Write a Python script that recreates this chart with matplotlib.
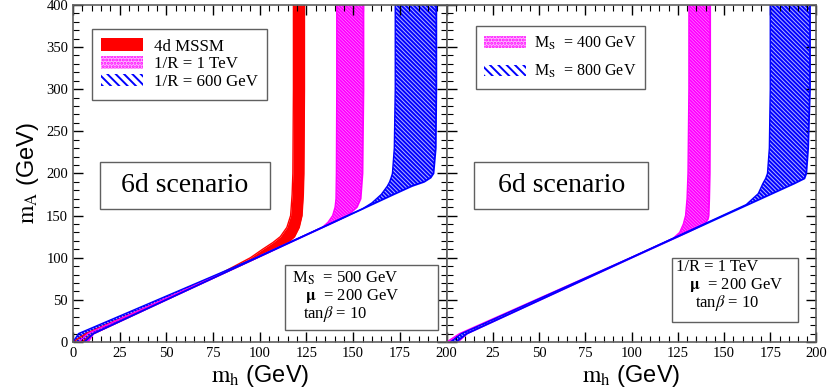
import matplotlib
matplotlib.use("Agg")
import matplotlib.pyplot as plt
from matplotlib.patches import Patch, Rectangle
from matplotlib.ticker import MultipleLocator

plt.rcParams['font.family'] = ['Liberation Serif', 'DejaVu Serif']
plt.rcParams['mathtext.fontset'] = 'stix'
plt.rcParams['hatch.linewidth'] = 1.4

# ---- data: (mA, mh lower edge, mh upper edge) ----
# left panel, 6d scenario, M_S = 500 GeV
mA_red = [0, 10, 50, 80, 100, 110, 118, 125, 136, 150, 175, 200, 300, 400]
mh_red_lo = [0, 7, 48.8, 78, 95, 101.5, 107, 111, 114.5, 116.5, 117.3, 117.7, 118, 118]
mh_red_hi = [5, 11, 49.7, 79, 98.5, 108, 115, 118.5, 121, 122.5, 123.2, 123.5, 123.8, 123.8]

mA_mag1 = [0, 10, 100, 136, 142, 150, 160, 170, 200, 300, 400]
mh_mag1_lo = [3, 8, 98, 133.5, 136.5, 139, 140.3, 140.8, 141, 141.2, 141.2]
mh_mag1_hi = [8, 11, 98.5, 133.6, 139.5, 147, 152, 154, 155, 155.5, 155.5]

mA_blu1 = [0, 10, 100, 158, 165, 175, 185, 190, 195, 200, 230, 300, 400]
mh_blu1_lo = [0, 3, 98, 155, 160, 165, 168.3, 169.5, 170.3, 171, 172, 172.5, 172.5]
mh_blu1_hi = [6, 11, 98.5, 155.1, 161.9, 171.6, 181.5, 188, 191.5, 193, 194.2, 194.5, 194.5]

# right panel, 1/R = 1 TeV
mA_mag2 = [0, 10, 100, 123, 130, 140, 146, 150, 170, 200, 300, 400]
mh_mag2_lo = [0, 7, 99.5, 122.5, 126, 128, 128.7, 129.2, 130, 130.5, 131, 131]
mh_mag2_hi = [6, 11, 100, 123, 130, 139.5, 141.3, 141.7, 142, 142.3, 142.5, 142.5]

mA_blu2 = [0, 10, 100, 163, 170, 176, 188, 194, 200, 230, 300, 400]
mh_blu2_lo = [2, 8, 99.5, 162, 165.5, 168.5, 171, 172.5, 173.5, 174.5, 175, 175]
mh_blu2_hi = [5, 11, 100, 163, 170, 176, 188, 193.5, 194.5, 195.5, 196.5, 196.5]

red_style = dict(facecolor='#ff0000', edgecolor='#ff0000', hatch=None)
mag_style = dict(facecolor='#ffc0ff', edgecolor='#ff00ff', hatch='\\\\\\\\\\\\\\\\\\\\')
blu_style = dict(facecolor='#b4b4ff', edgecolor='#0000ff', hatch='\\\\\\\\\\\\\\\\')


def band(ax, mA, lo, hi, st):
    ax.fill_betweenx(mA, lo, hi, facecolor=st['facecolor'], edgecolor=st['edgecolor'],
                     hatch=st['hatch'], linewidth=0)
    ax.plot(lo, mA, color=st['edgecolor'], lw=1.0)
    ax.plot(hi, mA, color=st['edgecolor'], lw=1.3)


fig = plt.figure(figsize=(8.34, 3.92), dpi=100)
ax1 = fig.add_axes([0.0875, 0.1276, 0.448, 0.860])
ax2 = fig.add_axes([0.5356, 0.1276, 0.4434, 0.860])

band(ax1, mA_red, mh_red_lo, mh_red_hi, red_style)
band(ax1, mA_mag1, mh_mag1_lo, mh_mag1_hi, mag_style)
band(ax1, mA_blu1, mh_blu1_lo, mh_blu1_hi, blu_style)
band(ax2, mA_mag2, mh_mag2_lo, mh_mag2_hi, mag_style)
band(ax2, mA_blu2, mh_blu2_lo, mh_blu2_hi, blu_style)

for ax in (ax1, ax2):
    ax.set_xlim(0, 200)
    ax.set_ylim(0, 400)
    ax.xaxis.set_major_locator(MultipleLocator(25))
    ax.xaxis.set_minor_locator(MultipleLocator(5))
    ax.yaxis.set_major_locator(MultipleLocator(50))
    ax.yaxis.set_minor_locator(MultipleLocator(10))
    ax.tick_params(which='both', direction='in', top=True, right=True, labelsize=10.5)
    ax.tick_params(which='major', length=7, width=1)
    ax.tick_params(which='minor', length=4, width=0.8)
    for s in ax.spines.values():
        s.set_color('#606060')
        s.set_linewidth(1.2)
    ax.set_xlabel(r'$\mathrm{m_h}$ (GeV)', fontsize=17, family=['Liberation Sans'], labelpad=2)

ax2.tick_params(labelleft=False)
ax2.set_xticks([0, 25, 50, 75, 100, 125, 150, 175, 200])
ax2.set_xticklabels(['', '25', '50', '75', '100', '125', '150', '175', '200'])
ax1.set_ylabel(r'$\mathrm{m_A}$ (GeV)', fontsize=17, family=['Liberation Sans'], labelpad=4)

# legends
h_red = Patch(facecolor='#ff0000', edgecolor='#ff0000', linewidth=0)
h_mag = Patch(facecolor='#ffb4ff', edgecolor='#ff00ff', hatch='.....', linewidth=0)
h_blu = Patch(facecolor='white', edgecolor='#0000ff', hatch='\\\\\\\\', linewidth=0)

leg1 = ax1.legend([h_red, h_mag, h_blu], ['4d MSSM', '1/R = 1 TeV', '1/R = 600 GeV'],
                  loc='upper left', bbox_to_anchor=(0.05, 0.928), fontsize=12.2,
                  fancybox=False, edgecolor='#606060', framealpha=1,
                  handlelength=2.5, handleheight=0.75, handletextpad=0.6,
                  labelspacing=0.1, borderpad=0.55, borderaxespad=0)
leg1.get_frame().set_linewidth(1.0)
leg2 = ax2.legend([h_mag, h_blu], [r'M$_{\rm S}$  = 400 GeV', r'M$_{\rm S}$  = 800 GeV'],
                  loc='upper left', bbox_to_anchor=(0.078, 0.937), fontsize=11.5,
                  fancybox=False, edgecolor='#606060', framealpha=1,
                  handlelength=2.6, handleheight=0.75, handletextpad=0.5,
                  labelspacing=0.7, borderpad=0.55, borderaxespad=0)
leg2.get_frame().set_linewidth(1.0)

# "6d scenario" boxes
for ax, x0, w in ((ax1, 0.072, 0.455), (ax2, 0.075, 0.47)):
    ax.add_patch(Rectangle((x0, 0.393), w, 0.14, transform=ax.transAxes, fill=True,
                           facecolor='white', edgecolor='#606060', lw=1.0, zorder=4))
    ax.text(x0 + w / 2, 0.463, '6d scenario', transform=ax.transAxes, fontsize=20,
            ha='center', va='center', zorder=5)

# parameter boxes
ax1.add_patch(Rectangle((0.567, 0.036), 0.41, 0.193, transform=ax1.transAxes,
                        facecolor='white', edgecolor='#606060', lw=1.0, zorder=4))
ax1.text(0.585, 0.19, r'M$_{\rm S}$  = 500 GeV', transform=ax1.transAxes, fontsize=12, va='center', zorder=5)
ax1.text(0.62, 0.137, r'$\mathbf{\mu}$  = 200 GeV', transform=ax1.transAxes, fontsize=12, va='center', zorder=5)
ax1.text(0.615, 0.083, r'tan$\beta$ = 10', transform=ax1.transAxes, fontsize=12, va='center', zorder=5)

ax2.add_patch(Rectangle((0.609, 0.059), 0.34, 0.19, transform=ax2.transAxes,
                        facecolor='white', edgecolor='#606060', lw=1.0, zorder=4))
ax2.text(0.62, 0.223, '1/R = 1 TeV', transform=ax2.transAxes, fontsize=12, va='center', zorder=5)
ax2.text(0.655, 0.17, r'$\mathbf{\mu}$  = 200 GeV', transform=ax2.transAxes, fontsize=12, va='center', zorder=5)
ax2.text(0.672, 0.115, r'tan$\beta$ = 10', transform=ax2.transAxes, fontsize=12, va='center', zorder=5)

fig.savefig('out.png', dpi=100)
